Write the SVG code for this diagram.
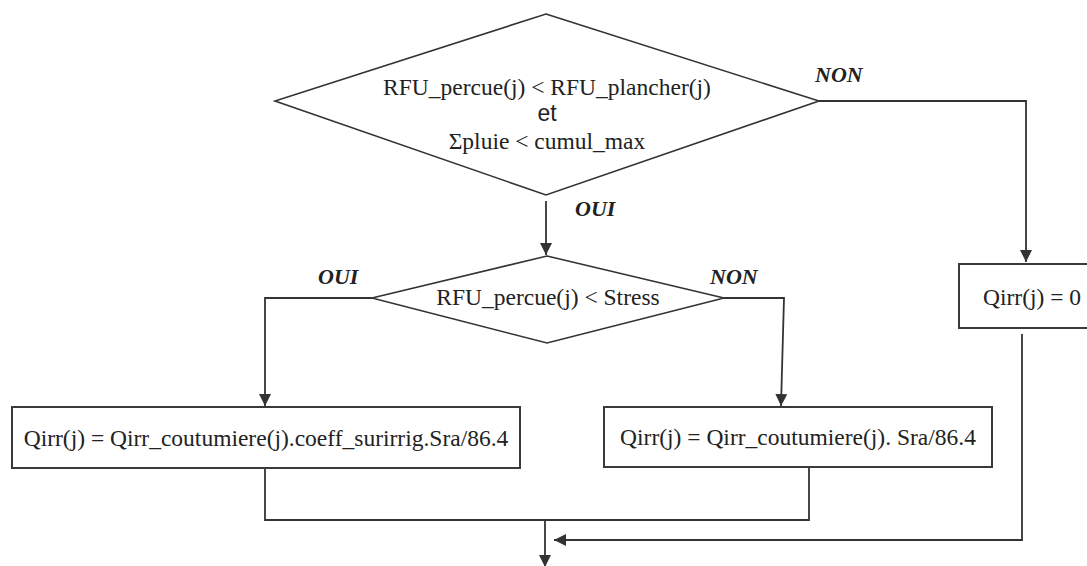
<svg xmlns="http://www.w3.org/2000/svg" width="1087" height="566" viewBox="0 0 1087 566">
<defs>
<style>
.shape{fill:#fff;stroke:#333;stroke-width:1.6}
.box{fill:#fff;stroke:#3a3a3a;stroke-width:2}
.line{fill:none;stroke:#333;stroke-width:1.8}
.t{font-family:"Liberation Serif","Times New Roman",serif;font-size:23.5px;fill:#222}
.s{font-family:"Liberation Sans",Arial,sans-serif;font-size:23px;fill:#222}
.lbl{font-family:"Liberation Serif","Times New Roman",serif;font-size:22px;font-weight:bold;font-style:italic;fill:#222}
</style>
<marker id="arr" viewBox="0 0 12 12" refX="12" refY="6" markerWidth="12" markerHeight="12" markerUnits="userSpaceOnUse" orient="auto">
<path d="M0,0 L12,6 L0,12 Z" fill="#333"/>
</marker>
</defs>
<g id="connectors">
<path class="line" d="M819,101 H1026 V262" marker-end="url(#arr)"/>
<path class="line" d="M546,201 V255" marker-end="url(#arr)"/>
<path class="line" d="M372,298 H265 V406" marker-end="url(#arr)"/>
<path class="line" d="M724,298 H784 L781,406" marker-end="url(#arr)"/>
<path class="line" d="M265,469 V520 H809 V468"/>
<path class="line" d="M545,520 V567" marker-end="url(#arr)"/>
<path class="line" d="M1022,334 V540 H554" marker-end="url(#arr)"/>
</g>
<g id="labels">
<text class="lbl" x="815" y="82">NON</text>
<text class="lbl" x="575" y="216">OUI</text>
<text class="lbl" x="318" y="284">OUI</text>
<text class="lbl" x="710" y="284">NON</text>
</g>
<g id="decision1">
<polygon class="shape" points="546,14 819,101 546,195 275,101"/>
<text class="t" x="547" y="95" text-anchor="middle">RFU_percue(j) &lt; RFU_plancher(j)</text>
<text class="s" x="547" y="121" text-anchor="middle">et</text>
<text class="t" x="547" y="149" text-anchor="middle">Σpluie &lt; cumul_max</text>
</g>
<g id="decision2">
<polygon class="shape" points="547,256 724,298 547,343 372,298"/>
<text class="t" x="548" y="305" text-anchor="middle">RFU_percue(j) &lt; Stress</text>
</g>
<g id="zero">
<rect class="box" x="959" y="264" width="140" height="64"/>
<text class="t" x="983" y="305">Qirr(j) = 0</text>
</g>
<g id="surirrig">
<rect class="box" x="12" y="407" width="508" height="61"/>
<text class="t" x="266" y="446" text-anchor="middle">Qirr(j) = Qirr_coutumiere(j).coeff_surirrig.Sra/86.4</text>
</g>
<g id="coutumiere">
<rect class="box" x="604" y="407" width="388" height="60"/>
<text class="t" x="798" y="445" text-anchor="middle">Qirr(j) = Qirr_coutumiere(j). Sra/86.4</text>
</g>
</svg>
